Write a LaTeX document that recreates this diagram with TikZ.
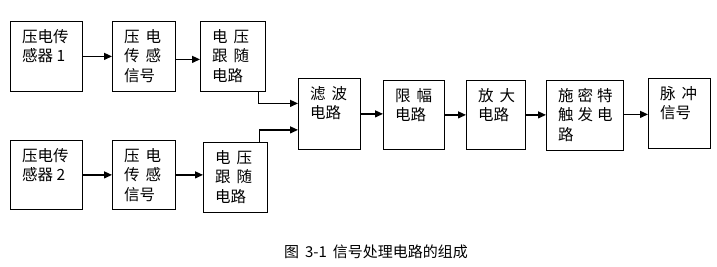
\documentclass[tikz,border=0pt]{standalone}
\usepackage{fontspec}
\setmainfont{Noto Sans CJK SC}
\usetikzlibrary{arrows.meta,calc}
\newcommand\gp{\hspace{6pt}}
\begin{document}
\begin{tikzpicture}[x=1pt,y=-1pt,
  box/.style={draw, line width=0.8pt, anchor=north west, inner sep=0pt},
  lbl/.style={anchor=north west, align=left, inner sep=0pt, xshift=12pt, yshift=-8pt,
    font=\fontsize{15.5}{19.5}\selectfont},
  conn/.style={line width=1.3pt, -{Triangle[length=8pt,width=7pt]}}]
\useasboundingbox (0,0) rectangle (717,267);
% upper row
\node[box, minimum width=72pt, minimum height=70pt, label={[lbl]north west:{压电传\\感器 1}}] (A1) at (10,21) {};
\node[box, minimum width=63pt, minimum height=70pt, label={[lbl]north west:{压\gp 电\\传\gp 感\\信号}}] (B1) at (112,21) {};
\node[box, minimum width=65pt, minimum height=70pt, label={[lbl]north west:{电\gp 压\\跟\gp 随\\电路}}] (C1) at (200,21) {};
% lower row
\node[box, minimum width=72pt, minimum height=69pt, label={[lbl]north west:{压电传\\感器 2}}] (A2) at (10,140) {};
\node[box, minimum width=63pt, minimum height=69pt, label={[lbl]north west:{压\gp 电\\传\gp 感\\信号}}] (B2) at (112,140) {};
\node[box, minimum width=64pt, minimum height=70pt, label={[lbl]north west:{电\gp 压\\跟\gp 随\\电路}}] (C2) at (203,142) {};
% main chain
\node[box, minimum width=62pt, minimum height=71pt, label={[lbl]north west:{滤\gp 波\\电路}}] (D) at (298,78) {};
\node[box, minimum width=61pt, minimum height=69pt, label={[lbl]north west:{限\gp 幅\\电路}}] (E) at (383,80) {};
\node[box, minimum width=59pt, minimum height=69pt, label={[lbl]north west:{放\gp 大\\电路}}] (F) at (466,80) {};
\node[box, minimum width=77pt, minimum height=70pt, label={[lbl]north west:{施\hspace{4pt}密\hspace{4pt}特\\触\hspace{4pt}发\hspace{4pt}电\\路}}] (G) at (546,80) {};
\node[box, minimum width=62pt, minimum height=70pt, label={[lbl]north west:{脉\gp 冲\\信号}}] (H) at (648,78) {};
% caption
\node[font=\fontsize{15}{18}\selectfont, inner sep=0pt] (cap) at (376,252) {图\hspace{6pt}3-1\hspace{6pt}信号处理电路的组成};
% connectors
\draw[conn] (A1.east) -- (A1.east -| B1.west);
\draw[conn] ([yshift=-3pt]B1.east) -- ([yshift=-3pt]B1.east -| C1.west);
\draw[conn] (A2.east) -- (A2.east -| B2.west);
\draw[conn] (B2.east) -- (B2.east -| C2.west);
\draw[conn] ([xshift=-7pt]C1.south east) |- ([yshift=10.5pt]D.west);
\draw[conn] ([xshift=-8pt]C2.north east) |- ([yshift=-16pt]D.west);
\draw[conn] (D.east) -- (D.east -| E.west);
\draw[conn] (E.east) -- (E.east -| F.west);
\draw[conn] (F.east) -- (F.east -| G.west);
\draw[conn] ([yshift=1pt]G.east) -- ([yshift=1pt]G.east -| H.west);
\end{tikzpicture}
\end{document}
